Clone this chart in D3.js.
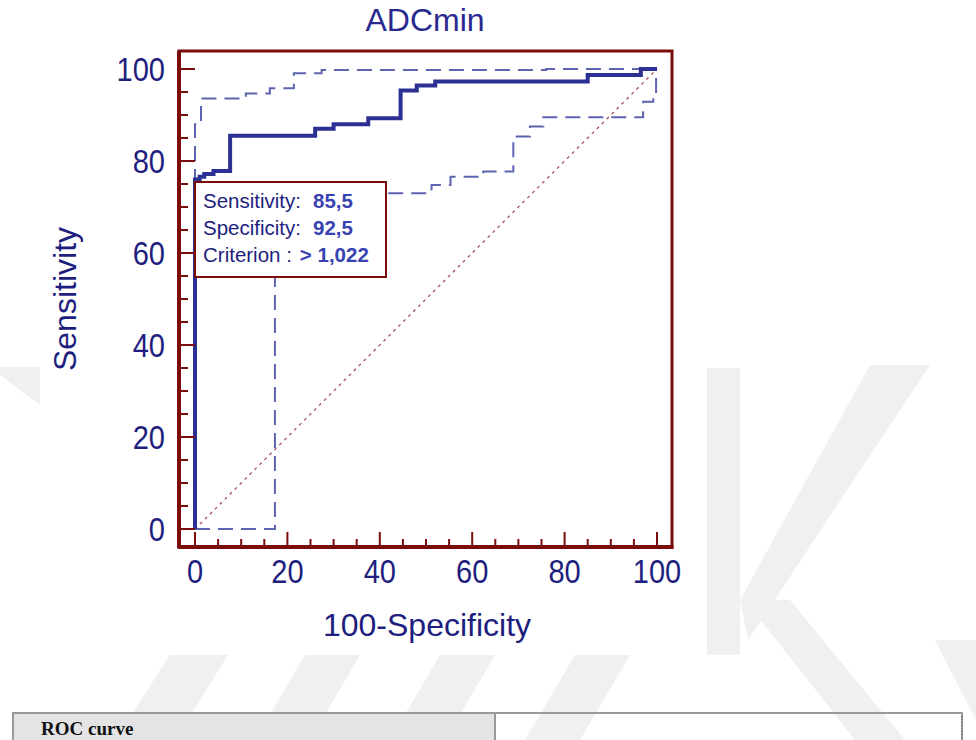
<!DOCTYPE html>
<html>
<head>
<meta charset="utf-8">
<script src="https://cdn.jsdelivr.net/npm/d3@7"></script>
<style>
  body { margin: 0; background: #fff; }
  svg text { font-family: "Liberation Sans", Arial, sans-serif; }
</style>
</head>
<body>
<div id="chart"></div>
<script>
// ROC curve ADCmin
var rocFpr   = [0, 0, 1, 2, 4, 7.6, 26, 30, 37.5, 44.5, 48, 52, 85, 96.5, 100];
var rocSens  = [0, 76, 76.6, 77.2, 77.8, 85.5, 87, 88, 89.3, 95.3, 96.4, 97.3, 98.7, 100, 100];

// upper 95% confidence bound
var upperFpr  = [0, 0, 1.3, 11, 16.2, 21.4, 27.4, 76, 100];
var upperSens = [0, 88, 93.6, 94.7, 95.8, 99.1, 99.8, 100, 100];

// lower 95% confidence bound
var lowerFpr  = [0, 17.3, 51.2, 55.3, 62.4, 68.9, 72.5, 75.4, 97, 99.2, 99.8];
var lowerSens = [0, 73, 74.8, 76.6, 77.7, 85.3, 87.5, 89.5, 92.9, 94, 100];

var tickValues = [0, 20, 40, 60, 80, 100];
var statLabels = ["Sensitivity:", "Specificity:", "Criterion :"];
var statValues = ["85,5", "92,5", "> 1,022"];

var W = 976, H = 740;
var navy = "#1e1e7e", frameCol = "#7a0c0c";

var svg = d3.select("#chart").append("svg")
    .attr("width", W).attr("height", H);

// --- faint watermark stripes (page background)
var wm = svg.append("g").attr("fill", "#f0f0f0");
var wmShapes = [
  [[0,367],[40,367],[40,405],[0,375]],
  [[705,368],[740,368],[740,655],[705,655]],
  [[870,365],[930,365],[748,640],[740,600]],
  [[745,600],[790,600],[905,740],[855,740]],
  [[935,640],[976,640],[976,720]],
  [[170,655],[228,655],[175,740],[115,740]],
  [[305,655],[360,655],[310,740],[255,740]],
  [[440,655],[495,655],[445,740],[390,740]],
  [[575,655],[630,655],[580,740],[525,740]]
];
wm.selectAll("polygon").data(wmShapes).enter().append("polygon")
    .attr("points", function (d) { return d.map(function (p) { return p.join(","); }).join(" "); });

// --- bottom table strip
var tbl = svg.append("g");
tbl.append("rect").attr("x", 13).attr("y", 713).attr("width", 482).attr("height", 40)
    .attr("fill", "#e4e4e4").attr("stroke", "#9a9a9a").attr("stroke-width", 2);
tbl.append("rect").attr("x", 495).attr("y", 713).attr("width", 467).attr("height", 40)
    .attr("fill", "none").attr("stroke", "#9a9a9a").attr("stroke-width", 2);
tbl.append("line").attr("x1", 962).attr("x2", 962).attr("y1", 716).attr("y2", 740)
    .attr("stroke", "#555").attr("stroke-dasharray", "1,2");
tbl.append("text").attr("x", 41).attr("y", 735)
    .style("font-family", "'Liberation Serif', 'Times New Roman', serif")
    .style("font-weight", "bold").style("font-size", "19px").attr("fill", "#111")
    .text("ROC curve");

// --- chart image background
svg.append("rect").attr("x", 40).attr("y", 0).attr("width", 667).attr("height", 655).attr("fill", "#fff");

var x = d3.scaleLinear().domain([0, 100]).range([195, 657]);
var y = d3.scaleLinear().domain([0, 100]).range([529, 69]);

var fl = 179, fr = 672, ft = 51, fb = 547;

// title
svg.append("text").attr("x", 425).attr("y", 31).attr("text-anchor", "middle")
    .style("font-size", "32px").attr("fill", "#2a2a8e").text("ADCmin");

// diagonal reference line
svg.append("line")
    .attr("x1", x(0)).attr("y1", y(0)).attr("x2", x(100)).attr("y2", y(100))
    .attr("stroke", "#a8505a").attr("stroke-width", 1.3).attr("stroke-dasharray", "3,4");

function stepLine(fx, fy) {
  return d3.line().curve(d3.curveStepAfter)
      .x(function (d, i) { return x(fx[i]); })
      .y(function (d, i) { return y(fy[i]); })(fx);
}

// confidence bounds
[[upperFpr, upperSens], [lowerFpr, lowerSens]].forEach(function (b) {
  svg.append("path").attr("d", stepLine(b[0], b[1]))
      .attr("fill", "none").attr("stroke", "#5d64b0").attr("stroke-width", 2)
      .attr("stroke-dasharray", "15,8");
});

// ROC curve
svg.append("path").attr("d", stepLine(rocFpr, rocSens))
    .attr("fill", "none").attr("stroke", "#2b3092").attr("stroke-width", 4)
    .attr("stroke-linejoin", "miter");

// frame
var fr_g = svg.append("g").attr("stroke", frameCol).attr("fill", "none");
fr_g.append("rect").attr("x", fl).attr("y", ft).attr("width", fr - fl).attr("height", fb - ft)
    .attr("stroke-width", 3);
fr_g.append("line").attr("x1", fl).attr("x2", fl).attr("y1", ft).attr("y2", fb + 1.5).attr("stroke-width", 4);
fr_g.append("line").attr("x1", fl).attr("x2", fr + 1.5).attr("y1", fb).attr("y2", fb).attr("stroke-width", 4);

// ticks
fr_g.selectAll(".xt").data(x.ticks(20)).enter().append("line")
    .attr("x1", function (d) { return x(d); }).attr("x2", function (d) { return x(d); })
    .attr("y1", fb).attr("y2", function (d) { return d % 20 === 0 ? fb - 15 : fb - 8; })
    .attr("stroke-width", 2);
fr_g.selectAll(".yt").data(y.ticks(20)).enter().append("line")
    .attr("y1", function (d) { return y(d); }).attr("y2", function (d) { return y(d); })
    .attr("x1", fl).attr("x2", function (d) { return d % 20 === 0 ? fl + 16 : fl + 9; })
    .attr("stroke-width", 2);

// tick labels (narrow)
function condense(sel, k) {
  sel.each(function () {
    var t = this.getComputedTextLength();
    d3.select(this).attr("textLength", t * k).attr("lengthAdjust", "spacingAndGlyphs");
  });
}
svg.selectAll(".xl").data(tickValues).enter().append("text")
    .attr("x", function (d) { return x(d); }).attr("y", 583)
    .attr("text-anchor", "middle").style("font-size", "33px").attr("fill", navy)
    .text(function (d) { return d; }).call(condense, 0.88);
svg.selectAll(".yl").data(tickValues).enter().append("text")
    .attr("x", 165).attr("y", function (d) { return y(d) + 12; })
    .attr("text-anchor", "end").style("font-size", "33px").attr("fill", navy)
    .text(function (d) { return d; }).call(condense, 0.88);

// axis titles
svg.append("text").attr("x", 427).attr("y", 636).attr("text-anchor", "middle")
    .style("font-size", "32px").attr("fill", navy).text("100-Specificity");
svg.append("text").attr("transform", "translate(76,299) rotate(-90)")
    .attr("text-anchor", "middle").style("font-size", "32px").attr("fill", navy)
    .text("Sensitivity");

// info box
var box = svg.append("g");
box.append("rect").attr("x", 195).attr("y", 182).attr("width", 191).attr("height", 95)
    .attr("fill", "#fff").attr("stroke", frameCol).attr("stroke-width", 2);
statLabels.forEach(function (lab, i) {
  var t = box.append("text").attr("x", 203).attr("y", 208 + i * 27)
      .style("font-size", "20.5px").attr("fill", navy);
  t.append("tspan").text(lab);
  t.append("tspan").attr("dx", i === 2 ? 8 : 12).attr("fill", "#3842b2")
      .style("font-weight", "bold").text(statValues[i]);
});
</script>
</body>
</html>
